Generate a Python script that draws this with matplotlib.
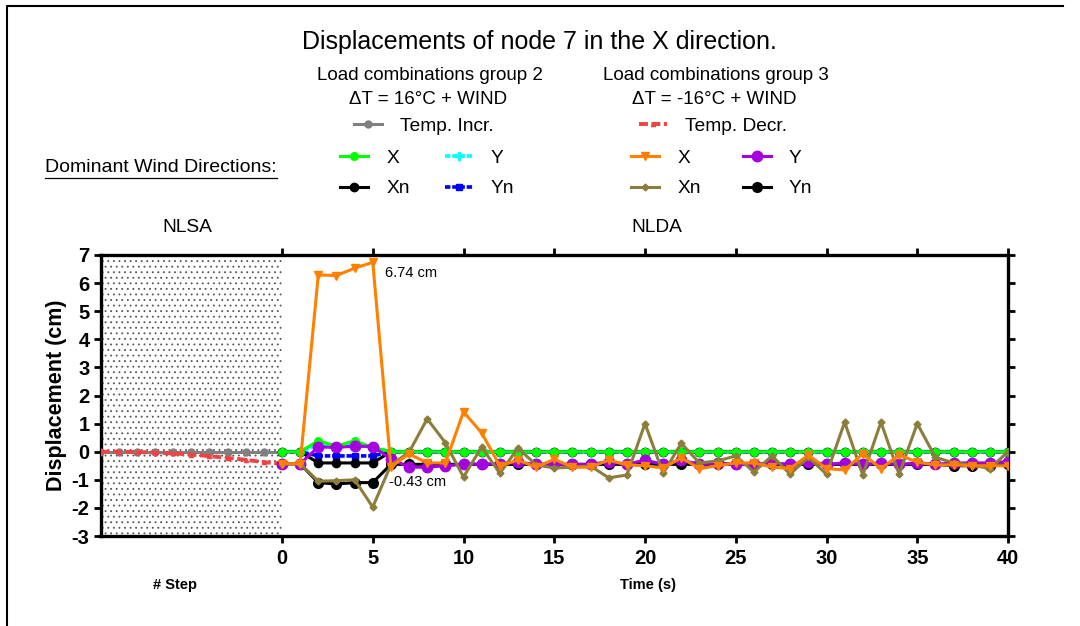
import numpy as np
import matplotlib.pyplot as plt
from matplotlib.lines import Line2D

plt.rcParams['font.family'] = ['Liberation Sans', 'DejaVu Sans']
plt.rcParams['hatch.linewidth'] = 0.6
plt.rcParams['axes.unicode_minus'] = False

# NLSA part (load steps) and NLDA part (time in s)
steps = [-10, -9, -8, -7, -6, -5, -4, -3, -2, -1, 0]
temp_incr = [0, 0, 0, 0, 0, 0, 0, 0, 0, 0, 0]
temp_decr = [0, 0, -0.01, -0.03, -0.06, -0.10, -0.16, -0.22, -0.29, -0.37, -0.43]

time_s = np.arange(0, 41)

# group 2 (dT = +16 C + wind)
g2_x = [0, 0, 0.39, 0.20, 0.39, 0.15, 0, 0, 0, 0, 0, 0, 0, 0, 0, 0, 0, 0, 0, 0, 0,
        0, 0, 0, 0, 0, 0, 0, 0, 0, 0, 0, 0, 0, 0, 0, 0, 0, 0, 0, 0]
g2_y = [0, 0, 0.25, 0.18, 0.25, 0.15, 0, 0, 0, 0, 0, 0, 0, 0, 0, 0, 0, 0, 0, 0, 0,
        0, 0, 0, 0, 0, 0, 0, 0, 0, 0, 0, 0, 0, 0, 0, 0, 0, 0, 0, 0]
g2_xn = [0, 0, -0.40, -0.40, -0.40, -0.40, 0, 0, 0, 0, 0, 0, 0, 0, 0, 0, 0, 0, 0, 0, 0,
         0, 0, 0, 0, 0, 0, 0, 0, 0, 0, 0, 0, 0, 0, 0, 0, 0, 0, 0, 0]
g2_yn = [0, 0, -0.15, -0.15, -0.15, -0.15, 0, 0, 0, 0, 0, 0, 0, 0, 0, 0, 0, 0, 0, 0, 0,
         0, 0, 0, 0, 0, 0, 0, 0, 0, 0, 0, 0, 0, 0, 0, 0, 0, 0, 0, 0]

# group 3 (dT = -16 C + wind)
g3_x = [-0.43, -0.43, 6.29, 6.27, 6.53, 6.74, -0.54, -0.08, -0.40, -0.40, 1.42,
        0.67, -0.50, -0.30, -0.55, -0.27, -0.55, -0.55, -0.30, -0.47, -0.50,
        -0.58, -0.22, -0.60, -0.50, -0.40, -0.40, -0.55, -0.60, -0.12, -0.60,
        -0.65, -0.08, -0.60, -0.12, -0.37, -0.47, -0.47, -0.50, -0.50, -0.50]
g3_y = [-0.43, -0.43, 0.17, 0.15, 0.20, 0.18, -0.25, -0.55, -0.55, -0.50, -0.45,
        -0.43, -0.43, -0.38, -0.45, -0.45, -0.45, -0.45, -0.35, -0.45, -0.30,
        -0.45, -0.30, -0.45, -0.40, -0.45, -0.45, -0.40, -0.45, -0.35, -0.45,
        -0.40, -0.45, -0.40, -0.45, -0.40, -0.45, -0.40, -0.40, -0.40, -0.35]
g3_xn = [-0.43, -0.43, -1.05, -1.03, -1.00, -1.97, -0.47, -0.02, 1.17, 0.32, -0.90,
         0.17, -0.77, 0.13, -0.47, -0.58, -0.55, -0.51, -0.93, -0.83, 1.00,
         -0.77, 0.30, -0.40, -0.33, -0.15, -0.72, -0.15, -0.80, -0.20, -0.80,
         1.05, -0.83, 1.05, -0.80, 1.00, -0.20, -0.40, -0.47, -0.60, 0.00]
g3_yn = [-0.43, -0.43, -1.10, -1.15, -1.10, -1.10, -0.45, -0.45, -0.45, -0.45, -0.45,
         -0.45, -0.45, -0.45, -0.45, -0.45, -0.45, -0.45, -0.45, -0.45, -0.45,
         -0.45, -0.45, -0.45, -0.45, -0.45, -0.45, -0.45, -0.45, -0.45, -0.45,
         -0.45, -0.45, -0.45, -0.45, -0.45, -0.45, -0.50, -0.50, -0.50, -0.45]

W, H = 1080, 626
fig = plt.figure(figsize=(W / 100, H / 100), dpi=100)

def fx(px):
    return px / W

def fy(py):
    return 1 - py / H

ax = fig.add_axes([fx(100.5), fy(536), fx(1008) - fx(100.5), fy(255) - fy(536)])

# dotted NLSA area
ax.axvspan(-10, 0, facecolor='none', edgecolor='#555555', hatch='...', linewidth=0)

lw = 2.2
h_incr, = ax.plot(steps, temp_incr, color='#808080', lw=lw, marker='o', ms=5, zorder=3)
h_decr, = ax.plot(steps, temp_decr, color='#F04444', lw=2.8, ls=(0, (2.3, 0.9)),
                  marker='^', ms=3, zorder=3)

h3_yn, = ax.plot(time_s, g3_yn, color='black', lw=lw, marker='o', ms=7, zorder=3)
h2_y, = ax.plot(time_s, g2_y, color='#00FFFF', lw=2.6, ls=(0, (1.5, 0.5)),
                marker='P', ms=6, zorder=3)
h2_yn, = ax.plot(time_s, g2_yn, color='#0000FF', lw=2.6, ls=(0, (1.5, 0.5)),
                 marker='s', ms=4.5, zorder=4)
h2_xn, = ax.plot(time_s, g2_xn, color='black', lw=lw, marker='o', ms=6, zorder=4)
h2_x, = ax.plot(time_s, g2_x, color='#00FF00', lw=lw, marker='o', ms=5.5, zorder=5)
h3_y, = ax.plot(time_s, g3_y, color='#A400E0', lw=lw, marker='o', ms=7.5, zorder=6)
h3_xn, = ax.plot(time_s, g3_xn, color='#8B7E3B', lw=lw, marker='D', ms=3.5, zorder=7)
h3_x, = ax.plot(time_s, g3_x, color='#FF8000', lw=lw, marker='v', ms=5.5, zorder=8)

ax.set_xlim(-10, 40)
ax.set_ylim(-3, 7)
ax.set_xticks(np.arange(0, 41, 5))
ax.set_yticks(np.arange(-3, 8, 1))
ax.tick_params(axis='both', direction='out', length=5, width=2, labelsize=14.5, pad=3)
ax.tick_params(axis='x', top=True, pad=4)
ax.tick_params(axis='y', right=True)
for lab in ax.get_xticklabels() + ax.get_yticklabels():
    lab.set_fontweight('bold')
for sp in ax.spines.values():
    sp.set_linewidth(2.4)
ax.set_ylabel('Displacement (cm)', fontsize=15.5, fontweight='bold', labelpad=3)

ax.text(5.65, 6.36, '6.74 cm', fontsize=10.5, va='center', ha='left')
ax.text(5.9, -1.08, '-0.43 cm', fontsize=10.5, va='center', ha='left')

# texts around the plot
fs = 13.75
fig.text(fx(539), fy(42), 'Displacements of node 7 in the X direction.', fontsize=18,
         ha='center', va='center')
fig.text(fx(429.5), fy(76), 'Load combinations group 2', fontsize=fs - 0.25, ha='center', va='center')
fig.text(fx(428), fy(100), '\u0394T = 16\u00b0C + WIND', fontsize=fs - 0.25, ha='center', va='center')
fig.text(fx(715.5), fy(76), 'Load combinations group 3', fontsize=fs - 0.25, ha='center', va='center')
fig.text(fx(714.5), fy(100), '\u0394T = -16\u00b0C + WIND', fontsize=fs - 0.25, ha='center', va='center')
dom = fig.text(fx(45), fy(167), 'Dominant Wind Directions:', fontsize=fs + 0.25, ha='left', va='center')
fig.text(fx(187), fy(227), 'NLSA', fontsize=fs, ha='center', va='center')
fig.text(fx(657), fy(227), 'NLDA', fontsize=fs, ha='center', va='center')
fig.text(fx(175), fy(585), '# Step', fontsize=10.5, fontweight='bold', ha='center', va='center')
fig.text(fx(648), fy(585), 'Time (s)', fontsize=10.5, fontweight='bold', ha='center', va='center')

leg_kw = dict(frameon=False, borderpad=0, borderaxespad=0, fontsize=fs,
              handlelength=1.47, handletextpad=0.95, loc='center left')
l1 = fig.legend(handles=[h_incr], labels=['Temp. Incr.'],
                bbox_to_anchor=(fx(354), fy(126)), **leg_kw)
l2 = fig.legend(handles=[h_decr], labels=['Temp. Decr.'],
                bbox_to_anchor=(fx(639), fy(126)), **leg_kw)
l3 = fig.legend(handles=[h2_x, h2_xn, h2_y, h2_yn], labels=['X', 'Xn', 'Y', 'Yn'],
                ncol=2, columnspacing=1.83, labelspacing=0.68,
                bbox_to_anchor=(fx(340), fy(173.5)), **leg_kw)
l4 = fig.legend(handles=[h3_x, h3_xn, h3_y, h3_yn], labels=['X', 'Xn', 'Y', 'Yn'],
                ncol=2, columnspacing=2.2, labelspacing=0.68,
                bbox_to_anchor=(fx(631), fy(173.5)), **leg_kw)

# underline + page border
fig.canvas.draw()
bb = dom.get_window_extent().transformed(fig.transFigure.inverted())
fig.add_artist(Line2D([bb.x0, bb.x1], [fy(178), fy(178)], color='black', lw=0.9,
                      transform=fig.transFigure))
fig.add_artist(Line2D([fx(7), fx(7), fx(1063)], [0, fy(6), fy(6)], color='black', lw=1.5,
                      transform=fig.transFigure))

fig.savefig('out.png', dpi=100)
